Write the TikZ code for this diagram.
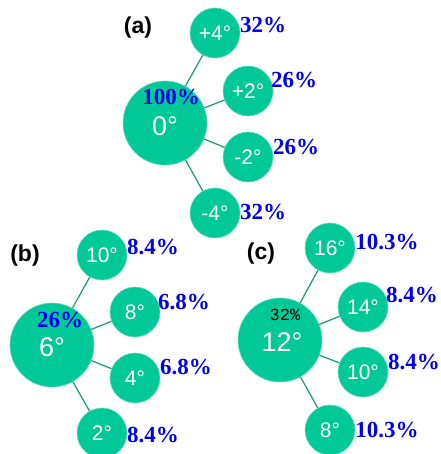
\documentclass[tikz,border=0pt]{standalone}
\usepackage{fontspec}
\setmainfont{Liberation Sans}
\newfontfamily\pctfont{Liberation Serif}
\newfontfamily\monofont{Liberation Mono}
\usetikzlibrary{positioning}
\definecolor{jadegreen}{RGB}{0,200,150}
\definecolor{jadeline}{RGB}{42,154,126}
\definecolor{pctblue}{RGB}{0,0,235}

\tikzset{
  bigangle/.style={circle, fill=jadegreen, draw=jadegreen!60!white, line width=0.6pt, minimum size=84pt, inner sep=0pt},
  smallangle/.style={circle, fill=jadegreen, draw=jadegreen!60!white, line width=0.6pt, minimum size=50pt, inner sep=0pt, text=white, font=\fontsize{21}{21}\selectfont},
  bigtext/.style={text=white, font=\fontsize{27}{27}\selectfont, inner sep=0pt},
  pct/.style={text=pctblue, font=\pctfont\bfseries\fontsize{23}{23}\selectfont, inner sep=0pt},
  panel/.style={font=\bfseries\fontsize{23}{23}\selectfont, inner sep=0pt},
  branch/.style={draw=jadeline, line width=1.3pt}
}

\begin{document}
\begin{tikzpicture}[x=1pt, y=-1pt]
  \useasboundingbox (0,0) rectangle (440,454);

  % (a)
  \node[panel] (lbla) at (138,28) {(a)};
  \node[bigangle] (a0) at (165,123) {};
  \node[smallangle] (ap4) at (215,33) {+4°};
  \node[smallangle] (ap2) at (248,91) {+2°};
  \node[smallangle] (am2) at (248,157) {-2°};
  \node[smallangle] (am4) at (215,213) {-4°};
  \foreach \n in {ap4, ap2, am2, am4}
    \draw[branch] (a0) -- (\n);
  \node[bigtext] (a0deg) at (165,126) {0°};
  \node[pct] (a0pct) at (171,97) {100\%};
  \node[pct] (ap4pct) at (263,25) {32\%};
  \node[pct] (ap2pct) at (294,80) {26\%};
  \node[pct] (am2pct) at (296,147) {26\%};
  \node[pct] (am4pct) at (263,212) {32\%};

  % (b)
  \node[panel] (lblb) at (25,256) {(b)};
  \node[bigangle] (b0) at (52,345) {};
  \node[smallangle] (b10) at (102,255) {10°};
  \node[smallangle] (b8) at (135,312) {8°};
  \node[smallangle] (b4) at (135,378) {4°};
  \node[smallangle] (b2) at (102,433) {2°};
  \foreach \n in {b10, b8, b4, b2}
    \draw[branch] (b0) -- (\n);
  \node[bigtext] (b0deg) at (52,347) {6°};
  \node[pct] (b0pct) at (60,320) {26\%};
  \node[pct] (b10pct) at (153,247) {8.4\%};
  \node[pct] (b8pct) at (184,302) {6.8\%};
  \node[pct] (b4pct) at (186,367) {6.8\%};
  \node[pct] (b2pct) at (153,435) {8.4\%};

  % (c)
  \node[panel] (lblc) at (261,254) {(c)};
  \node[bigangle] (c0) at (280,340) {};
  \node[smallangle] (c16) at (330,248) {16°};
  \node[smallangle] (c14) at (363,307) {14°};
  \node[smallangle] (c10) at (363,372) {10°};
  \node[smallangle] (c8) at (330,430) {8°};
  \foreach \n in {c16, c14, c10, c8}
    \draw[branch] (c0) -- (\n);
  \node[bigtext] (c0deg) at (282,342) {12°};
  \node[inner sep=0pt, font=\monofont\fontsize{17}{17}\selectfont] (c0pct) at (285,315) {32\%};
  \node[pct] (c16pct) at (387,242) {10.3\%};
  \node[pct] (c14pct) at (412,295) {8.4\%};
  \node[pct] (c10pct) at (414,362) {8.4\%};
  \node[pct] (c8pct) at (387,430) {10.3\%};
\end{tikzpicture}
\end{document}
